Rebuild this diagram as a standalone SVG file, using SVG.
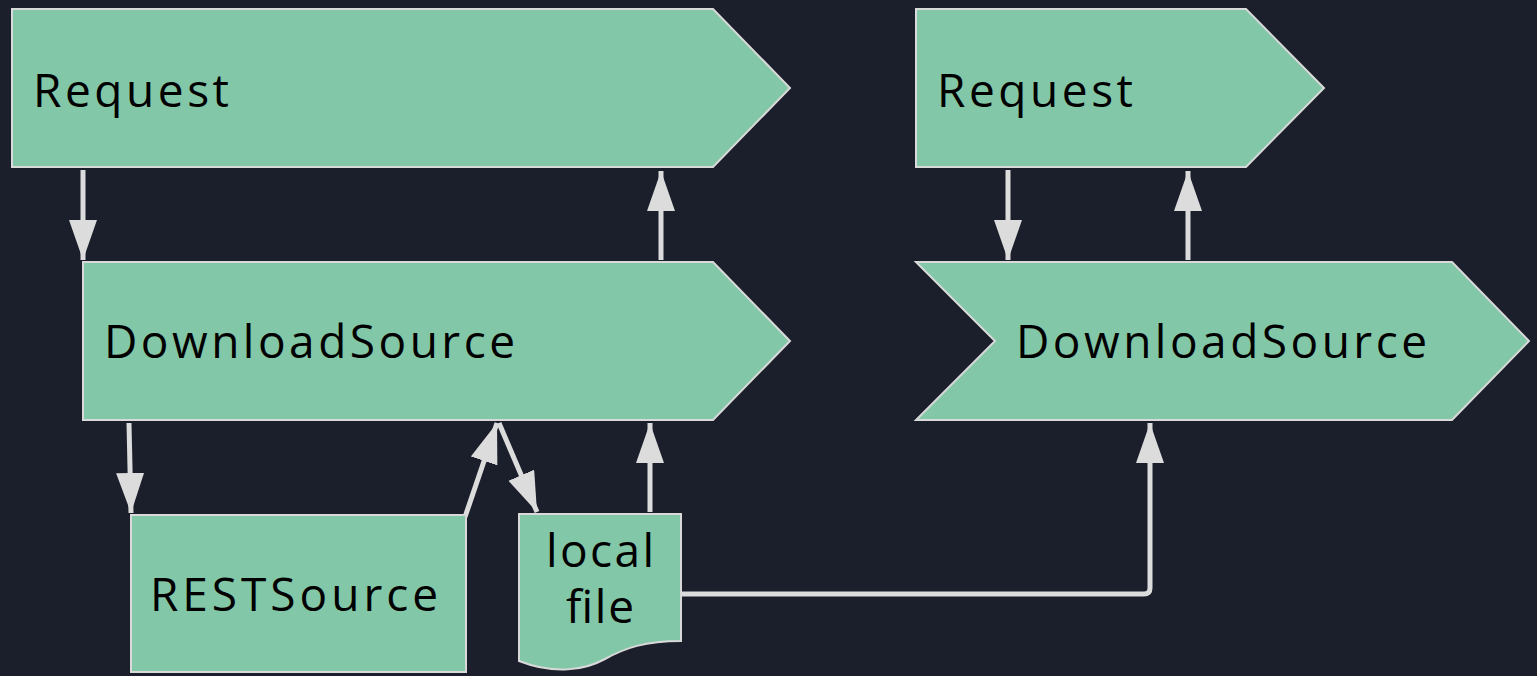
<svg xmlns="http://www.w3.org/2000/svg" width="1537" height="676" viewBox="0 0 1537 676">
<defs>
<style>
.node{fill:#82c7a7;stroke:#d9d9d9;stroke-width:2}
.lbl{font-family:"Open Sans","Liberation Sans",sans-serif;font-size:46px;fill:#000}
.edge{stroke:#dcdcdc;stroke-width:5;fill:none}
</style>
<marker id="ah" markerUnits="userSpaceOnUse" markerWidth="42" markerHeight="30" refX="40" refY="14" orient="auto">
<path d="M0,0 L40,14 L0,28 z" fill="#dcdcdc"/>
</marker>
</defs>
<rect width="1537" height="676" fill="#1b1f2c"/>
<g id="edges">
<line class="edge" x1="83" y1="170" x2="83" y2="260" marker-end="url(#ah)"/>
<line class="edge" x1="661" y1="260" x2="661" y2="171" marker-end="url(#ah)"/>
<line class="edge" x1="129" y1="423" x2="131" y2="513" marker-end="url(#ah)"/>
<line class="edge" x1="465" y1="517" x2="497" y2="423" marker-end="url(#ah)"/>
<line class="edge" x1="499" y1="423" x2="537" y2="512" marker-end="url(#ah)"/>
<line class="edge" x1="650" y1="512" x2="650" y2="423" marker-end="url(#ah)"/>
<line class="edge" x1="1008" y1="170" x2="1008" y2="260" marker-end="url(#ah)"/>
<line class="edge" x1="1188" y1="260" x2="1188" y2="171" marker-end="url(#ah)"/>
<path class="edge" d="M682,594 H1144 Q1150,594 1150,588 V423" marker-end="url(#ah)"/>
</g>
<g id="request1">
<polygon class="node" points="12,9 713,9 790,88 713,167 12,167"/>
<text class="lbl" x="33" y="107" textLength="196">Request</text>
</g>
<g id="downloadsource1">
<polygon class="node" points="83,262 713,262 790,341 713,420 83,420"/>
<text class="lbl" x="104" y="358" textLength="411">DownloadSource</text>
</g>
<g id="request2">
<polygon class="node" points="916,9 1246,9 1324,88 1246,167 916,167"/>
<text class="lbl" x="937" y="107" textLength="196">Request</text>
</g>
<g id="downloadsource2">
<polygon class="node" points="916,262 1452,262 1529,341 1452,420 916,420 995,341"/>
<text class="lbl" x="1016" y="358" textLength="411">DownloadSource</text>
</g>
<g id="restsource">
<rect class="node" x="131" y="515" width="335" height="157"/>
<text class="lbl" x="150" y="611" textLength="288">RESTSource</text>
</g>
<g id="localfile">
<path class="node" d="M519,514 H681 V641 C645,641 625,648 605,659 C585,670 555,675 519,661 Z"/>
<text class="lbl" x="546" y="567" textLength="108">local</text>
<text class="lbl" x="566" y="623" textLength="68">file</text>
</g>
</svg>
